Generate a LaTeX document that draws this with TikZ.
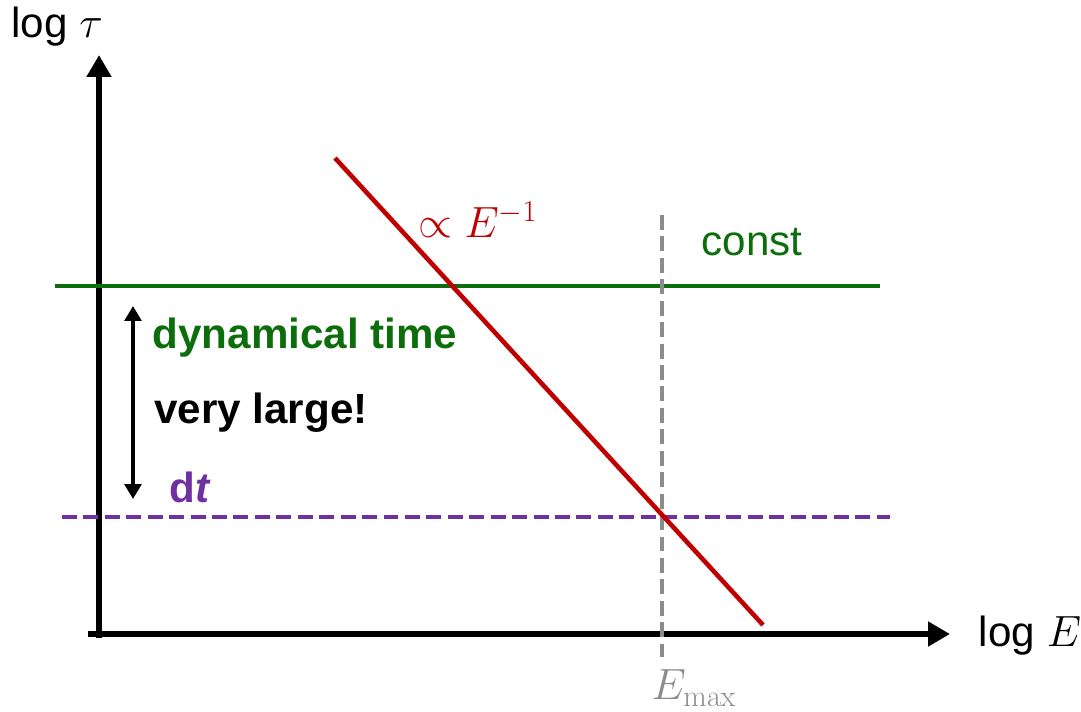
\documentclass[tikz,border=0pt]{standalone}
\usepackage{amsmath}
\usepackage[no-math]{fontspec}
\setmainfont{Liberation Sans}
\usepackage{tikz}
\usetikzlibrary{arrows.meta}
\definecolor{Dgreen}{HTML}{0B6E0B}
\definecolor{Dred}{HTML}{C00000}
\definecolor{Purple}{HTML}{7030A0}
\definecolor{Grey}{HTML}{8C8C8C}

\begin{document}
\begin{tikzpicture}[x=.02cm,y=-.02cm,font=\fontsize{24}{28}\selectfont,
    axis/.style={line width=3.6pt,-{Triangle[length=12.5pt,width=13.5pt]}},
    level/.style={line width=2.6pt},
    dashline/.style={line width=2.6pt,dash pattern=on 8.5pt off 3.7pt}]
        \useasboundingbox (0,0) rectangle (1081,711);
        % axes
        \coordinate (o) at (99,638);
        \coordinate (ytop) at (99,55);
        \coordinate (xl) at (88,634);
        \coordinate (xr) at (950,634);
        \draw[axis] (o)--(ytop);
        \draw[axis] (xl)--(xr);
        \node (ylab) at (57,27) {log $\tau$};
        \node (xlab) at (1030,636) {log $E$};
        % levels
        \coordinate (g1) at (55,286);
        \coordinate (g2) at (880,286);
        \coordinate (p1) at (62,517);
        \coordinate (p2) at (890,517);
        \coordinate (e1) at (662,215);
        \coordinate (e2) at (662,657);
        \coordinate (r1) at (335,158);
        \coordinate (r2) at (763,625);
        \draw[level,Dgreen] (g1)--(g2);
        \draw[dashline,Purple] (p1)--(p2);
        \draw[dashline,Grey] (e1)--(e2);
        \draw[level,Dred] (r1)--(r2);
        \node[Dgreen] (const) at (752,242) {const};
        \node[Dred] (slope) at (478,220) {$\propto E^{-1}$};
        \node[Grey] (emax) at (694,688) {$E_{\max}$};
        % gap between the two time scales
        \coordinate (a1) at (133,306);
        \coordinate (a2) at (133,499);
        \draw[line width=2pt,{Triangle[length=8.5pt,width=9.5pt]}-{Triangle[length=8.5pt,width=9.5pt]}] (a1)--(a2);
        \node[Dgreen,font=\fontsize{24}{28}\selectfont\bfseries] (dyn) at (305,338) {dynamical time};
        \node[font=\fontsize{24}{28}\selectfont\bfseries] (large) at (261,413) {very large!};
        \node[Purple,font=\fontsize{24}{28}\selectfont\bfseries] (dt) at (190,487) {d\textit{t}};
      \end{tikzpicture}
\end{document}
